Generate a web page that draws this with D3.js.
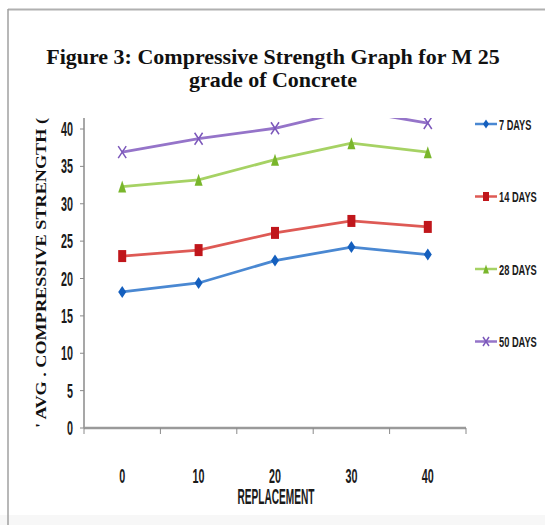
<!DOCTYPE html>
<html>
<head>
<meta charset="utf-8">
<script src="https://cdn.jsdelivr.net/npm/d3@7"></script>
<style>
  body { margin: 0; background: #fff; }
  svg { display: block; }
</style>
</head>
<body>
<script>
// chart data
var categories = ["0", "10", "20", "30", "40"];
var series_names = ["7 DAYS", "14 DAYS", "28 DAYS", "50 DAYS"];
var days_7 = [18.2, 19.4, 22.4, 24.2, 23.2];
var days_14 = [23.0, 23.8, 26.1, 27.7, 26.9];
var days_28 = [32.3, 33.2, 35.9, 38.1, 36.9];
var days_50 = [36.9, 38.7, 40.1, 42.5, 40.8];
var y_ticks = [0, 5, 10, 15, 20, 25, 30, 35, 40];

var series = [
  {name: series_names[0], values: days_7, line: "#4a88d2", mark: "#145fbe", shape: "diamond"},
  {name: series_names[1], values: days_14, line: "#de5a55", mark: "#c0161b", shape: "square"},
  {name: series_names[2], values: days_28, line: "#a6d264", mark: "#79b62b", shape: "triangle"},
  {name: series_names[3], values: days_50, line: "#9574c9", mark: "#7c58bb", shape: "cross"}
];

var svg = d3.select("body").append("svg")
            .attr("width", 545)
            .attr("height", 525);

// page frame
svg.append("rect").attr("x", 0).attr("y", 515).attr("width", 545).attr("height", 10).attr("fill", "#f7f7f7");
svg.append("line").attr("x1", 8).attr("y1", 9.5).attr("x2", 545).attr("y2", 9.5)
   .attr("stroke", "#b0b0b0").attr("stroke-width", 2);
svg.append("line").attr("x1", 8).attr("y1", 9).attr("x2", 8).attr("y2", 525)
   .attr("stroke", "#a0a0a0").attr("stroke-width", 1.5);

// title
var title = svg.append("text")
   .attr("text-anchor", "middle")
   .style("font-family", "'Liberation Serif', 'Times New Roman', serif")
   .style("font-weight", "bold")
   .style("font-size", "22px")
   .attr("fill", "#111");
title.append("tspan").attr("x", 273).attr("y", 64).text("Figure 3: Compressive Strength Graph for M 25");
title.append("tspan").attr("x", 273).attr("y", 87).text("grade of Concrete");

svg.append("defs").append("clipPath").attr("id", "cut")
   .append("rect").attr("x", 0).attr("y", 118).attr("width", 545).attr("height", 400);

var chart = svg.append("g").attr("clip-path", "url(#cut)");

var x = d3.scaleBand().domain(categories).range([84, 466]);
var y = d3.scaleLinear().domain([0, 40]).range([428, 129]);

function cx (i) {
  return x(categories[i]) + x.bandwidth() / 2;
}

// condensed text via textLength
function narrow_text (g, tx, ty, str, size, len, anchor) {
  return g.append("text")
          .attr("x", tx)
          .attr("y", ty)
          .attr("text-anchor", anchor)
          .attr("textLength", len)
          .attr("lengthAdjust", "spacingAndGlyphs")
          .style("font-family", "'Liberation Sans', Arial, sans-serif")
          .style("font-weight", "bold")
          .style("font-size", size + "px")
          .attr("fill", "#1a1a1a")
          .text(str);
}

// y axis
chart.append("line").attr("x1", 84).attr("y1", y(42)).attr("x2", 84).attr("y2", y(0))
     .attr("stroke", "#8a8a8a").attr("stroke-width", 1.5);
y_ticks.forEach(function (t) {
  chart.append("line").attr("x1", 80).attr("y1", y(t)).attr("x2", 84).attr("y2", y(t))
       .attr("stroke", "#8a8a8a").attr("stroke-width", 1);
  narrow_text(chart, 73, y(t) + 7, String(t), 20, String(t).length * 6, "end");
});

// x axis
chart.append("line").attr("x1", 84).attr("y1", y(0)).attr("x2", 466).attr("y2", y(0))
     .attr("stroke", "#9a9a9a").attr("stroke-width", 2.5);
categories.concat(["end"]).forEach(function (c, i) {
  var tx = 84 + i * x.step();
  chart.append("line").attr("x1", tx).attr("y1", y(0)).attr("x2", tx).attr("y2", y(0) + 6)
       .attr("stroke", "#8a8a8a").attr("stroke-width", 1);
});
categories.forEach(function (c, i) {
  narrow_text(chart, cx(i), 483, c, 20, c.length * 6, "middle");
});
narrow_text(chart, 276, 504, "REPLACEMENT", 22, 77, "middle");

// y label, squeezed along its baseline
chart.append("text")
     .attr("transform", "translate(46,428) rotate(-90)")
     .attr("textLength", 310)
     .attr("lengthAdjust", "spacingAndGlyphs")
     .style("font-family", "'Liberation Serif', 'Times New Roman', serif")
     .style("font-weight", "bold")
     .style("font-size", "15px")
     .attr("fill", "#111")
     .text("' AVG . COMPRESSIVE STRENGTH (");
chart.append("text")
     .attr("transform", "translate(46,116) rotate(-90)")
     .style("font-family", "'Liberation Serif', 'Times New Roman', serif")
     .style("font-weight", "bold")
     .style("font-size", "15px")
     .attr("fill", "#111")
     .text("N/mm2)");

function marker_path (shape, w, h) {
  var a = w / 2, b = h / 2;
  if (shape === "diamond") return "M0," + (-b) + "L" + a + ",0L0," + b + "L" + (-a) + ",0Z";
  if (shape === "square") return "M" + (-a) + "," + (-b) + "H" + a + "V" + b + "H" + (-a) + "Z";
  if (shape === "triangle") return "M0," + (-b) + "L" + a + "," + b + "L" + (-a) + "," + b + "Z";
  return "M" + (-a) + "," + (-b) + "L" + a + "," + b + "M" + a + "," + (-b) + "L" + (-a) + "," + b;
}

function draw_marker (g, s, mx, my, w, h) {
  var p = g.append("path")
           .attr("d", marker_path(s.shape, w, h))
           .attr("transform", "translate(" + mx + "," + my + ")");
  if (s.shape === "cross") {
    p.attr("fill", "none").attr("stroke", s.mark).attr("stroke-width", 1.5);
  } else {
    p.attr("fill", s.mark);
  }
}

var line = d3.line()
             .x(function (d, i) { return cx(i); })
             .y(function (d) { return y(d); });

series.forEach(function (s) {
  chart.append("path")
       .attr("d", line(s.values))
       .attr("fill", "none")
       .attr("stroke", s.line)
       .attr("stroke-width", 2.8);
  s.values.forEach(function (v, i) {
    draw_marker(chart, s, cx(i), y(v), 8, 12);
  });
});

// legend
series.forEach(function (s, i) {
  var ly = 124 + i * 72.5;
  chart.append("line").attr("x1", 475).attr("y1", ly).attr("x2", 497).attr("y2", ly)
       .attr("stroke", s.line).attr("stroke-width", 2.5);
  draw_marker(chart, s, 486, ly, 6, 9);
  narrow_text(chart, 499, ly + 5.5, s.name, 14.5, s.name.length * 5.4, "start");
});
</script>
</body>
</html>
